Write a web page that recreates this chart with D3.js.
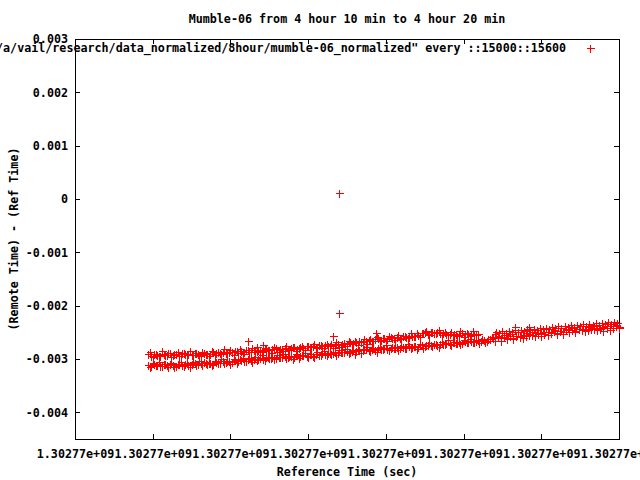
<!DOCTYPE html>
<html>
<head>
<meta charset="utf-8">
<script src="https://cdn.jsdelivr.net/npm/d3@7"></script>
<style>
  html, body { margin: 0; padding: 0; background: #fff; }
  svg { display: block; }
  text { font-family: "DejaVu Sans Mono", "Liberation Mono", monospace; font-weight: bold; font-size: 11.7px; fill: #000; }
</style>
</head>
<body>
<script>
// ---------------- data ----------------
const baseTime = 1302770000;                 // seconds; all ticks print as 1.30277e+09
const xTickOffsets = [0, 100, 200, 300, 400, 500, 600, 700];
const yTickValues = [0.003, 0.002, 0.001, 0, -0.001, -0.002, -0.003, -0.004];
const yDomain = [-0.0045, 0.003];
const titleText = "Mumble-06 from 4 hour 10 min to 4 hour 20 min";
const xLabelText = "Reference Time (sec)";
const yLabelText = "(Remote Time) - (Ref Time)";
const legendText = "/a/vail/research/data_normalized/8hour/mumble-06_normalized\" every ::15000::15600";

// upper band: [seconds after baseTime, offset]
const upperBand = [
[94,-0.002915],[98,-0.002935],[102,-0.002900],[106,-0.002925],[110,-0.002945],[114,-0.002905],[118,-0.002920],[122,-0.002890],
[126,-0.002930],[130,-0.002910],[134,-0.002940],[138,-0.002895],[142,-0.002915],[146,-0.002900],[150,-0.002925],[154,-0.002885],
[158,-0.002905],[162,-0.002920],[166,-0.002880],[170,-0.002900],[174,-0.002915],[178,-0.002870],[182,-0.002895],[186,-0.002880],
[190,-0.002860],[194,-0.002890],[198,-0.002865],[202,-0.002875],[206,-0.002850],[210,-0.002880],[214,-0.002845],[218,-0.002860],
[222,-0.002835],[226,-0.002870],[230,-0.002840],[234,-0.002855],[238,-0.002825],[242,-0.002845],[246,-0.002815],[250,-0.002840],
[254,-0.002820],[258,-0.002800],[262,-0.002830],[266,-0.002805],[270,-0.002790],[274,-0.002820],[278,-0.002795],[282,-0.002780],
[286,-0.002805],[290,-0.002775],[294,-0.002790],[298,-0.002760],[302,-0.002780],[306,-0.002750],[310,-0.002770],[314,-0.002745],
[318,-0.002760],[322,-0.002735],[326,-0.002755],[330,-0.002720],[334,-0.002740],[338,-0.002715],[342,-0.002730],[346,-0.002700],
[350,-0.002720],[354,-0.002690],[358,-0.002705],[362,-0.002680],[366,-0.002665],[370,-0.002690],[374,-0.002655],[378,-0.002640],
[382,-0.002665],[386,-0.002630],[390,-0.002615],[394,-0.002640],[398,-0.002600],[402,-0.002620],[406,-0.002590],[410,-0.002610],
[414,-0.002585],[418,-0.002600],[422,-0.002570],[426,-0.002590],[430,-0.002580],[434,-0.002560],[438,-0.002575],[442,-0.002545],
[446,-0.002520],[450,-0.002500],[454,-0.002525],[458,-0.002490],[462,-0.002510],[466,-0.002495],[470,-0.002520],[474,-0.002505],
[478,-0.002540],[482,-0.002525],[486,-0.002550],[490,-0.002530],[494,-0.002545],[498,-0.002520],[502,-0.002540],[506,-0.002525],
[510,-0.002545],[514,-0.002530],[518,-0.002540]
];

// looser points scattered around the upper band
const upperScatter = [
[96,-0.002873],[100,-0.002967],[104,-0.002906],[108,-0.002950],[112,-0.002859],[116,-0.002933],[120,-0.002882],[124,-0.002966],
[128,-0.002905],[132,-0.002869],[136,-0.002953],[140,-0.002882],[144,-0.002916],[148,-0.002855],[152,-0.002934],[156,-0.002886],
[160,-0.002938],[164,-0.002860],[168,-0.002897],[172,-0.002939],[176,-0.002841],[180,-0.002933],[184,-0.002870],[188,-0.002912],
[192,-0.002819],[196,-0.002891],[200,-0.002838],[204,-0.002920],[208,-0.002857],[212,-0.002819],[216,-0.002901],[220,-0.002828],
[224,-0.002860],[228,-0.002797],[232,-0.002874],[236,-0.002826],[240,-0.002878],[244,-0.002800],[248,-0.002838],[252,-0.002879],
[256,-0.002780],[260,-0.002871],[264,-0.002807],[268,-0.002848],[272,-0.002754],[276,-0.002825],[280,-0.002771],[284,-0.002852],
[288,-0.002788],[292,-0.002748],[296,-0.002828],[300,-0.002753],[304,-0.002784],[308,-0.002719],[312,-0.002794],[316,-0.002745],
[320,-0.002795],[324,-0.002715],[328,-0.002749],[332,-0.002789],[336,-0.002688],[340,-0.002778],[344,-0.002712],[348,-0.002752],
[352,-0.002656],[356,-0.002726],[360,-0.002670],[364,-0.002746],[368,-0.002678],[372,-0.002634],[376,-0.002711],[380,-0.002632],
[384,-0.002659],[388,-0.002590],[392,-0.002661],[396,-0.002609],[400,-0.002658],[404,-0.002576],[408,-0.002609],[412,-0.002647],
[416,-0.002545],[420,-0.002633],[424,-0.002566],[428,-0.002604],[432,-0.002510],[436,-0.002575],[440,-0.002515],[444,-0.002590],
[448,-0.002515],[452,-0.002470],[456,-0.002555],[460,-0.002485],[464,-0.002520],[468,-0.002460],[472,-0.002542],[476,-0.002500],
[480,-0.002557],[484,-0.002485],[488,-0.002527],[492,-0.002575],[496,-0.002482],[500,-0.002579],[504,-0.002520],[508,-0.002567],
[512,-0.002478],[516,-0.002554]
];

// lower band
const lowerBand = [
[94,-0.003105],[98,-0.003125],[102,-0.003095],[106,-0.003115],[110,-0.003130],[114,-0.003100],[118,-0.003120],[122,-0.003090],
[126,-0.003110],[130,-0.003125],[134,-0.003095],[138,-0.003105],[142,-0.003085],[146,-0.003115],[150,-0.003095],[154,-0.003075],
[158,-0.003100],[162,-0.003080],[166,-0.003065],[170,-0.003090],[174,-0.003070],[178,-0.003085],[182,-0.003055],[186,-0.003075],
[190,-0.003045],[194,-0.003065],[198,-0.003035],[202,-0.003055],[206,-0.003025],[210,-0.003045],[214,-0.003020],[218,-0.003040],
[222,-0.003005],[226,-0.003025],[230,-0.002995],[234,-0.003015],[238,-0.002985],[242,-0.003000],[246,-0.002970],[250,-0.002990],
[254,-0.002960],[258,-0.002980],[262,-0.002955],[266,-0.002970],[270,-0.002945],[274,-0.002965],[278,-0.002940],[282,-0.002955],
[286,-0.002930],[290,-0.002950],[294,-0.002925],[298,-0.002940],[302,-0.002915],[306,-0.002935],[310,-0.002905],[314,-0.002920],
[318,-0.002895],[322,-0.002910],[326,-0.002880],[330,-0.002900],[334,-0.002870],[338,-0.002885],[342,-0.002860],[346,-0.002875],
[350,-0.002845],[354,-0.002860],[358,-0.002835],[362,-0.002850],[366,-0.002825],[370,-0.002840],[374,-0.002815],[378,-0.002830],
[382,-0.002805],[386,-0.002825],[390,-0.002800],[394,-0.002815],[398,-0.002790],[402,-0.002810],[406,-0.002785],[410,-0.002800],
[414,-0.002780],[418,-0.002795],[422,-0.002770],[426,-0.002790],[430,-0.002765],[434,-0.002780],[438,-0.002755],[442,-0.002770],
[446,-0.002740],[450,-0.002755],[454,-0.002730],[458,-0.002745],[462,-0.002720],[466,-0.002735],[470,-0.002710],[474,-0.002725],
[478,-0.002700],[482,-0.002715],[486,-0.002690],[490,-0.002705],[494,-0.002680],[498,-0.002695],[502,-0.002670],[506,-0.002685],
[510,-0.002660],[514,-0.002675],[518,-0.002650],[522,-0.002665],[526,-0.002640],[530,-0.002655],[534,-0.002630],[538,-0.002600],
[540,-0.002540],[542,-0.002500],[544,-0.002560],[546,-0.002520],[548,-0.002610],[552,-0.002590],[556,-0.002620],[560,-0.002575],
[564,-0.002600],[568,-0.002560],[572,-0.002585],[576,-0.002545],[580,-0.002570],[584,-0.002530],[588,-0.002555],[592,-0.002515],
[596,-0.002540],[600,-0.002505],[604,-0.002530],[608,-0.002490],[612,-0.002515],[616,-0.002480],[620,-0.002505],[624,-0.002470],
[628,-0.002495],[632,-0.002460],[636,-0.002485],[640,-0.002450],[644,-0.002475],[648,-0.002440],[652,-0.002465],[656,-0.002430],
[660,-0.002455],[664,-0.002420],[668,-0.002445],[672,-0.002410],[676,-0.002435],[680,-0.002400],[684,-0.002425],[688,-0.002390],
[692,-0.002410],[696,-0.002380],[700,-0.002400]
];

// looser points scattered around the lower band
const lowerScatter = [
[96,-0.003149],[100,-0.003073],[104,-0.003117],[108,-0.003056],[112,-0.003130],[116,-0.003099],[120,-0.003158],[124,-0.003072],
[128,-0.003146],[132,-0.003085],[136,-0.003054],[140,-0.003128],[144,-0.003077],[148,-0.003146],[152,-0.003053],[156,-0.003104],
[160,-0.003030],[164,-0.003116],[168,-0.003067],[172,-0.003078],[176,-0.003109],[180,-0.003030],[184,-0.003071],[188,-0.003007],
[192,-0.003077],[196,-0.003041],[200,-0.003095],[204,-0.003005],[208,-0.003074],[212,-0.003009],[216,-0.002973],[220,-0.003042],
[224,-0.002986],[228,-0.003050],[232,-0.002954],[236,-0.003003],[240,-0.002927],[244,-0.003011],[248,-0.002963],[252,-0.002975],
[256,-0.003006],[260,-0.002928],[264,-0.002970],[268,-0.002907],[272,-0.002979],[276,-0.002946],[280,-0.003003],[284,-0.002915],
[288,-0.002987],[292,-0.002922],[296,-0.002887],[300,-0.002957],[304,-0.002901],[308,-0.002966],[312,-0.002871],[316,-0.002920],
[320,-0.002845],[324,-0.002930],[328,-0.002879],[332,-0.002889],[336,-0.002918],[340,-0.002838],[344,-0.002877],[348,-0.002812],
[352,-0.002881],[356,-0.002846],[360,-0.002900],[364,-0.002810],[368,-0.002881],[372,-0.002816],[376,-0.002782],[380,-0.002852],
[384,-0.002798],[388,-0.002863],[392,-0.002768],[396,-0.002819],[400,-0.002746],[404,-0.002832],[408,-0.002784],[412,-0.002795],
[416,-0.002827],[420,-0.002749],[424,-0.002790],[428,-0.002727],[432,-0.002797],[436,-0.002762],[440,-0.002817],[444,-0.002726],
[448,-0.002796],[452,-0.002731],[456,-0.002695],[460,-0.002765],[464,-0.002710],[468,-0.002774],[472,-0.002679],[476,-0.002728],
[480,-0.002653],[484,-0.002737],[488,-0.002687],[492,-0.002696],[496,-0.002726],[500,-0.002645],[504,-0.002685],[508,-0.002620],
[512,-0.002689],[516,-0.002654],[520,-0.002709],[524,-0.002619],[528,-0.002689],[532,-0.002624],[536,-0.002588],[540,-0.002655],
[544,-0.002595],[548,-0.002657],[552,-0.002559],[556,-0.002608],[560,-0.002532],[564,-0.002616],[568,-0.002564],[572,-0.002573],
[576,-0.002601],[580,-0.002520],[584,-0.002558],[588,-0.002492],[592,-0.002560],[596,-0.002523],[600,-0.002577],[604,-0.002485],
[608,-0.002553],[612,-0.002485],[616,-0.002452],[620,-0.002522],[624,-0.002466],[628,-0.002531],[632,-0.002436],[636,-0.002485],
[640,-0.002410],[644,-0.002495],[648,-0.002444],[652,-0.002454],[656,-0.002484],[660,-0.002403],[664,-0.002443],[668,-0.002378],
[672,-0.002448],[676,-0.002414],[680,-0.002470],[684,-0.002381],[688,-0.002452],[692,-0.002388],[696,-0.002354],[700,-0.002425]
];

// upper strand of the merged band at the right end
const rightBand = [
[550,-0.002480],[554,-0.002510],[558,-0.002470],[562,-0.002495],[566,-0.002460],[570,-0.002485],[574,-0.002450],[578,-0.002475],
[582,-0.002440],[586,-0.002465],[590,-0.002430],[594,-0.002455],[598,-0.002420],[602,-0.002445],[606,-0.002410],[610,-0.002435],
[614,-0.002400],[618,-0.002425],[622,-0.002390],[626,-0.002415],[630,-0.002380],[634,-0.002405],[638,-0.002370],[642,-0.002395],
[646,-0.002360],[650,-0.002385],[654,-0.002350],[658,-0.002375],[662,-0.002340],[666,-0.002365],[670,-0.002330],[674,-0.002355],
[678,-0.002320],[682,-0.002345],[686,-0.002310],[690,-0.002335],[694,-0.002300],[698,-0.002325]
];

// isolated points
const outliers = [
[339.5,0.000112],[340,-0.002138],[222.5,-0.002663],[234,-0.002775],[242,-0.002738],
[332,-0.002569],[387,-0.002513],[566,-0.002400],[584,-0.002400]
];

// ---------------- chart ----------------
const W = 640, H = 480;
const plot = { left: 75, right: 619, top: 39, bottom: 439 };
const red = "#ff0000";

const svg = d3.select("body").append("svg").attr("width", W).attr("height", H);

const x = d3.scaleLinear().domain([baseTime + xTickOffsets[0], baseTime + xTickOffsets[xTickOffsets.length - 1]])
  .range([plot.left, plot.right]);
const y = d3.scaleLinear().domain(yDomain).range([plot.bottom, plot.top]);

const xTicks = xTickOffsets.map(d => baseTime + d);
const fmtX = v => v.toExponential(5).replace(/e([+-])(\d)$/, "e$10$2");
const fmtY = v => (v === 0 ? "0" : String(+v.toPrecision(6)));

const tick = 5;

// axes
const gx = svg.append("g").attr("transform", `translate(0,${plot.bottom})`)
  .call(d3.axisBottom(x).tickValues(xTicks).tickFormat(fmtX).tickSizeInner(-tick).tickSizeOuter(0).tickPadding(11));
const gxTop = svg.append("g").attr("transform", `translate(0,${plot.top})`)
  .call(d3.axisTop(x).tickValues(xTicks).tickFormat("").tickSizeInner(-tick).tickSizeOuter(0));
const gy = svg.append("g").attr("transform", `translate(${plot.left},0)`)
  .call(d3.axisLeft(y).tickValues(yTickValues).tickFormat(fmtY).tickSizeInner(-tick).tickSizeOuter(0).tickPadding(7));
const gyR = svg.append("g").attr("transform", `translate(${plot.right},0)`)
  .call(d3.axisRight(y).tickValues(yTickValues).tickFormat("").tickSizeInner(-tick).tickSizeOuter(0));

[gx, gxTop, gy, gyR].forEach(g => {
  g.select(".domain").remove();
  g.selectAll(".tick line").attr("stroke", "#000").attr("shape-rendering", "crispEdges");
  g.selectAll("text").attr("font-family", null).attr("font-size", null).attr("fill", "#000");
});

// border
svg.append("rect")
  .attr("x", plot.left + 0.5).attr("y", plot.top + 0.5)
  .attr("width", plot.right - plot.left).attr("height", plot.bottom - plot.top)
  .attr("fill", "none").attr("stroke", "#000").attr("stroke-width", 1)
  .attr("shape-rendering", "crispEdges");

// titles
svg.append("text").attr("x", (plot.left + plot.right) / 2).attr("y", 23)
  .attr("text-anchor", "middle").text(titleText);
svg.append("text").attr("x", (plot.left + plot.right) / 2).attr("y", 476)
  .attr("text-anchor", "middle").text(xLabelText);
svg.append("text")
  .attr("transform", `translate(18,${(plot.top + plot.bottom) / 2}) rotate(-90)`)
  .attr("text-anchor", "middle").text(yLabelText);

// legend
svg.append("text").attr("x", 566).attr("y", 52).attr("text-anchor", "end").text(legendText);

const plusPath = (cx, cy) => {
  const px = Math.round(cx) + 0.5, py = Math.round(cy) + 0.5, r = 4;
  return `M${px - r},${py}H${px + r}M${px},${py - r}V${py + r}`;
};

svg.append("path").attr("d", plusPath(590, 48)).attr("stroke", red).attr("fill", "none")
  .attr("shape-rendering", "crispEdges");

// points
const allPoints = [].concat(upperBand, upperScatter, lowerBand, lowerScatter, rightBand, outliers);
svg.append("g").selectAll("path").data(allPoints).join("path")
  .attr("d", d => plusPath(x(baseTime + d[0]), y(d[1])))
  .attr("stroke", red).attr("stroke-width", 1).attr("fill", "none")
  .attr("shape-rendering", "crispEdges");
</script>
</body>
</html>
